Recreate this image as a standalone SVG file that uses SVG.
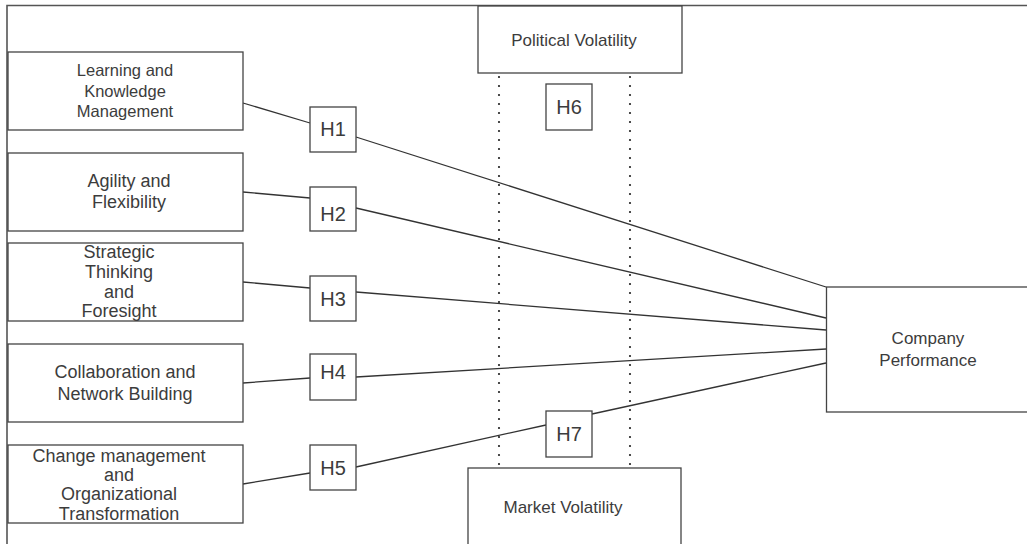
<svg xmlns="http://www.w3.org/2000/svg" width="1027" height="544" viewBox="0 0 1027 544">
<style>
.box{fill:#fff;stroke:#444;stroke-width:1.3}
.t{font-family:"Liberation Sans",Arial,sans-serif;fill:#3c3c3c;text-anchor:middle}
.s18{font-size:18px}
.s17{font-size:17px}
.s16{font-size:16.5px}
.h{font-size:20px}
.ln{stroke:#333;stroke-width:1.3;fill:none}
.dot{stroke:#222;stroke-width:2.2;stroke-linecap:round;stroke-dasharray:0 9;fill:none}
.frame{stroke:#555;stroke-width:1.6;fill:none}
</style>
<rect width="1027" height="544" fill="#fff"/>
<path class="frame" d="M7,544 V5.5 H1027"/>
<g id="connectors">
<path class="ln" d="M243,103 L310,123"/>
<path class="ln" d="M356,137 L826,287"/>
<path class="ln" d="M243,192 L310,198"/>
<path class="ln" d="M356,208 L826,318"/>
<path class="ln" d="M243,282 L310,288"/>
<path class="ln" d="M356,292 L826,330"/>
<path class="ln" d="M243,383 L310,378"/>
<path class="ln" d="M356,377 L826,349"/>
<path class="ln" d="M243,484 L310,473"/>
<path class="ln" d="M356,467 L546,425"/>
<path class="ln" d="M592,414 L826,363"/>
<path class="dot" d="M499,77 V466"/>
<path class="dot" d="M630,77 V466"/>
</g>
<g id="n-learning"><rect class="box" x="8" y="52" width="235" height="78"/><text class="t s16" x="125" y="76">Learning and</text><text class="t s16" x="125" y="96.5">Knowledge</text><text class="t s16" x="125" y="116.5">Management</text></g>
<g id="n-agility"><rect class="box" x="8" y="153" width="235" height="78"/><text class="t s18" x="129" y="187">Agility and</text><text class="t s18" x="129" y="208">Flexibility</text></g>
<g id="n-strategic"><rect class="box" x="8" y="243" width="235" height="78"/><text class="t s18" x="119" y="258">Strategic</text><text class="t s18" x="119" y="277.5">Thinking</text><text class="t s18" x="119" y="298">and</text><text class="t s18" x="119" y="317">Foresight</text></g>
<g id="n-collab"><rect class="box" x="8" y="344" width="235" height="78"/><text class="t s18" x="125" y="377.5">Collaboration and</text><text class="t s18" x="125" y="400">Network Building</text></g>
<g id="n-change"><rect class="box" x="8" y="445" width="235" height="78"/><text class="t s18" x="119" y="461.5">Change management</text><text class="t s18" x="119" y="481">and</text><text class="t s18" x="119" y="500">Organizational</text><text class="t s18" x="119" y="519.5">Transformation</text></g>
<g id="n-h1"><rect class="box" x="310" y="107" width="46" height="45"/><text class="t h" x="333" y="136">H1</text></g>
<g id="n-h2"><rect class="box" x="310" y="187" width="46" height="44"/><text class="t h" x="333" y="221">H2</text></g>
<g id="n-h3"><rect class="box" x="310" y="276" width="46" height="45"/><text class="t h" x="333" y="305.5">H3</text></g>
<g id="n-h4"><rect class="box" x="310" y="354" width="46" height="46"/><text class="t h" x="333" y="379">H4</text></g>
<g id="n-h5"><rect class="box" x="310" y="445" width="46" height="45"/><text class="t h" x="333" y="474.5">H5</text></g>
<g id="n-political"><rect class="box" x="478" y="6" width="204" height="67"/><text class="t s17" x="574" y="46">Political Volatility</text></g>
<g id="n-h6"><rect class="box" x="546" y="84" width="46" height="46"/><text class="t h" x="569" y="114">H6</text></g>
<g id="n-h7"><rect class="box" x="546" y="411" width="46" height="46"/><text class="t h" x="569" y="441">H7</text></g>
<g id="n-market"><rect class="box" x="468" y="468" width="213" height="90"/><text class="t s17" x="563" y="513">Market Volatility</text></g>
<g id="n-company"><rect class="box" x="826.5" y="287" width="210" height="125"/><text class="t s17" x="928" y="344">Company</text><text class="t s17" x="928" y="366">Performance</text></g>
</svg>
